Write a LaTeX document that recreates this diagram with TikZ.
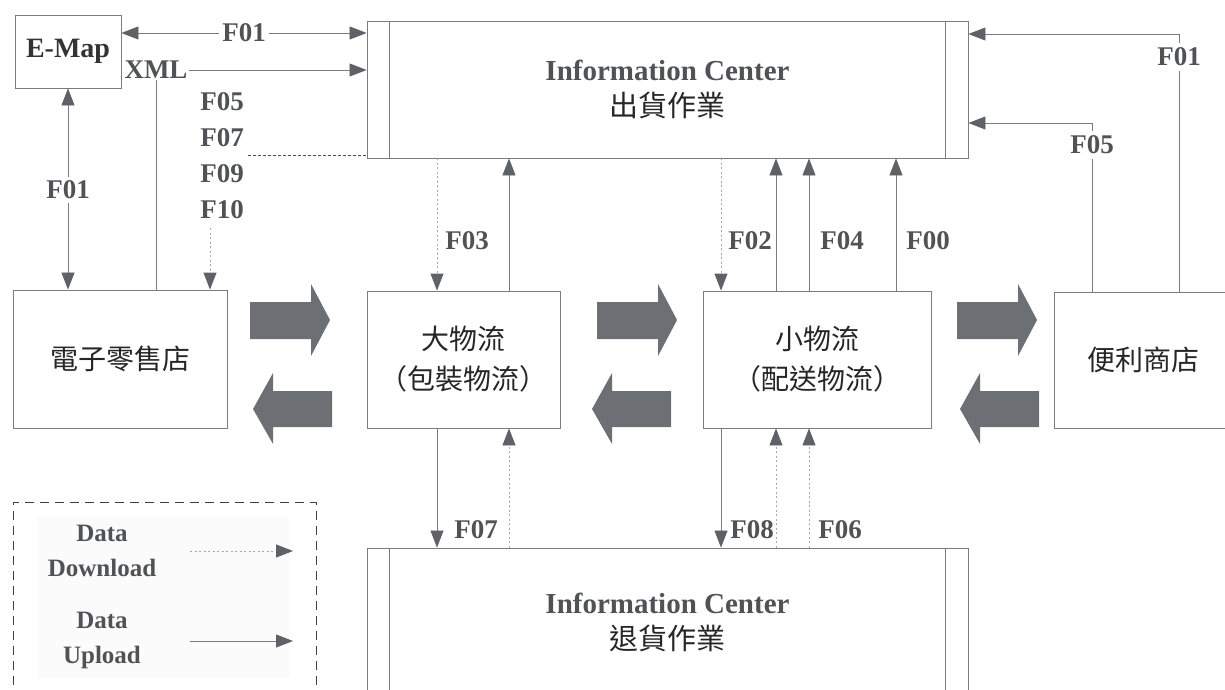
\documentclass[tikz,border=0pt]{standalone}
\usepackage{fontspec}
\setmainfont{Liberation Serif}
\newfontfamily\cjk{Noto Sans CJK TC}
\usetikzlibrary{arrows.meta,calc}
\definecolor{lbl}{HTML}{505256}
\definecolor{ln}{HTML}{7C7C7C}
\definecolor{tipc}{HTML}{5E6166}
\definecolor{blk}{HTML}{6C6F74}
\definecolor{dotc}{HTML}{A8A8A8}
\begin{document}
\begin{tikzpicture}[x=1pt,y=-1pt,
  box/.style={draw=ln,line width=0.9pt,inner sep=0pt,align=center,text=black!85},
  boxline/.style={draw=ln,line width=0.8pt},
  infobox/.style={box,font=\fontsize{29}{36}\selectfont},
  lab/.style={text=lbl,font=\fontsize{27}{36}\selectfont\bfseries,inner sep=1pt,align=center},
  cjkt/.style={font=\cjk\fontsize{28}{40}\selectfont},
  tip/.style={-{Triangle[length=17pt,width=13pt,fill=tipc,color=tipc]}},
  tips/.style={{Triangle[length=17pt,width=13pt,fill=tipc,color=tipc]}-{Triangle[length=17pt,width=13pt,fill=tipc,color=tipc]}},
  ul/.style={draw=ln,line width=0.8pt},
  dl/.style={draw=dotc,line width=0.9pt,dash pattern=on 2pt off 2.5pt},
  bigarrow/.style={fill=blk,draw=none}]
\useasboundingbox (0,0) rectangle (1225,690);
\clip (0,0) rectangle (1225,690);

% boxes
\node[box,minimum width=106pt,minimum height=73pt,font=\fontsize{28}{34}\selectfont\bfseries,text=black!80] (emap) at (68,51.5) {E-Map};
\node[infobox,minimum width=601pt,minimum height=137pt] (top) at (667.5,89.5)
  {{\bfseries\color{lbl}Information Center}\\{\cjk 出貨作業}};
\node[infobox,minimum width=601pt,minimum height=148pt] (bot) at (667.5,622)
  {{\bfseries\color{lbl}Information Center}\\{\cjk 退貨作業}};
\node[box,cjkt,minimum width=214pt,minimum height=138pt] (shop) at (120,359) {電子零售店};
\node[box,cjkt,minimum width=193pt,minimum height=137pt] (big) at (463.5,359.5) {大物流\\（包裝物流）};
\node[box,cjkt,minimum width=228pt,minimum height=137pt] (small) at (817,359.5) {小物流\\（配送物流）};
\node[box,cjkt,minimum width=178pt,minimum height=136pt] (conv) at (1143,360) {便利商店};

% inner lines of information centres
\foreach \b in {top,bot}{
  \draw[boxline] ($(\b.north west)+(23,0)$) -- ($(\b.south west)+(23,0)$);
  \draw[boxline] ($(\b.north east)+(-23,0)$) -- ($(\b.south east)+(-23,0)$);
}

% block arrows
\foreach \x in {250,597,957}{
  \fill[bigarrow] (\x,302) -- ++(61,0) -- ++(0,-18) -- ++(19,36) -- ++(-19,36) -- ++(0,-17) -- ++(-61,0) -- cycle;
}
\foreach \x in {253,592,960}{
  \fill[bigarrow] (\x,409) -- ++(20,-36) -- ++(0,18) -- ++(59,0) -- ++(0,36) -- ++(-59,0) -- ++(0,17) -- cycle;
}

% helper coordinates
\coordinate (xa) at (437,0);
\coordinate (xb) at (509,0);
\coordinate (xc) at (721,0);
\coordinate (xd) at (776,0);
\coordinate (xe) at (809,0);
\coordinate (xf) at (896,0);
\coordinate (xg) at (1092,0);
\coordinate (xh) at (1179,0);
\coordinate (yF01) at (0,33);
\coordinate (yR1) at (0,34);
\coordinate (yR5) at (0,123);
\coordinate (dA) at (248,155);
\coordinate (dB) at (210,228);

% left top connectors
\draw[ul,tips] (emap.east |- yF01) -- (top.west |- yF01);
\node[lab,fill=white,inner xsep=3pt] (lf01a) at (244,33) {F01};
\node[lab] (xml) at (156,70) {XML};
\draw[ul,tip] (xml.east) -- (top.west |- xml.east);
\draw[ul] (shop.north -| xml.south) -- (xml.south);
\draw[ul,tips] (emap.south) -- (shop.north -| emap.south);
\node[lab,fill=white,inner ysep=4pt] (lf01b) at (68,190) {F01};
\node[lab] (stk) at (222,156) {F05\\F07\\F09\\F10};
\draw[draw=black!70,line width=0.8pt,dash pattern=on 3pt off 2pt] (dA) -- (top.west |- dA);
\draw[dl,tip] (dB) -- (shop.north -| dB);

% top centre connectors
\draw[dl,tip] (top.south -| xa) -- (big.north -| xa);
\draw[ul,tip] (big.north -| xb) -- (top.south -| xb);
\draw[dl,tip] (top.south -| xc) -- (small.north -| xc);
\draw[ul,tip] (small.north -| xd) -- (top.south -| xd);
\draw[ul,tip] (small.north -| xe) -- (top.south -| xe);
\draw[ul,tip] (small.north -| xf) -- (top.south -| xf);
\node[lab] (l03) at (467,241) {F03};
\node[lab] (l02) at (750,241) {F02};
\node[lab] (l04) at (842,241) {F04};
\node[lab] (l00) at (928,241) {F00};

% right connectors
\draw[ul,tip] (conv.north -| xh) |- (top.east |- yR1);
\draw[ul,tip] (conv.north -| xg) |- (top.east |- yR5);
\node[lab,fill=white,inner ysep=5pt] (lr01) at (1179,57) {F01};
\node[lab,fill=white,inner ysep=5pt] (lr05) at (1092,145) {F05};

% bottom connectors
\draw[ul,tip] (big.south -| xa) -- (bot.north -| xa);
\draw[dl,tip] (bot.north -| xb) -- (big.south -| xb);
\draw[ul,tip] (small.south -| xc) -- (bot.north -| xc);
\draw[dl,tip] (bot.north -| xd) -- (small.south -| xd);
\draw[dl,tip] (bot.north -| xe) -- (small.south -| xe);
\node[lab] (l07) at (476,530) {F07};
\node[lab] (l08) at (752,530) {F08};
\node[lab] (l06) at (840,530) {F06};

% legend
\fill[black!1.5] (37,517) rectangle (290,678);
\draw[draw=black!75,line width=0.9pt,dash pattern=on 9pt off 6pt] (13,700) -- (13,502) -- (316,502) -- (316,700);
\node[lab,font=\fontsize{25}{35}\selectfont\bfseries] (lgd) at (102,551) {Data\\Download};
\node[lab,font=\fontsize{25}{35}\selectfont\bfseries] (lgu) at (102,640) {Data\\Upload};
\coordinate (lg1s) at (190,551);
\coordinate (lg1e) at (293,551);
\coordinate (lg2s) at (190,641);
\coordinate (lg2e) at (293,641);
\draw[dl,tip] (lg1s) -- (lg1e);
\draw[ul,tip] (lg2s) -- (lg2e);
\end{tikzpicture}
\end{document}
